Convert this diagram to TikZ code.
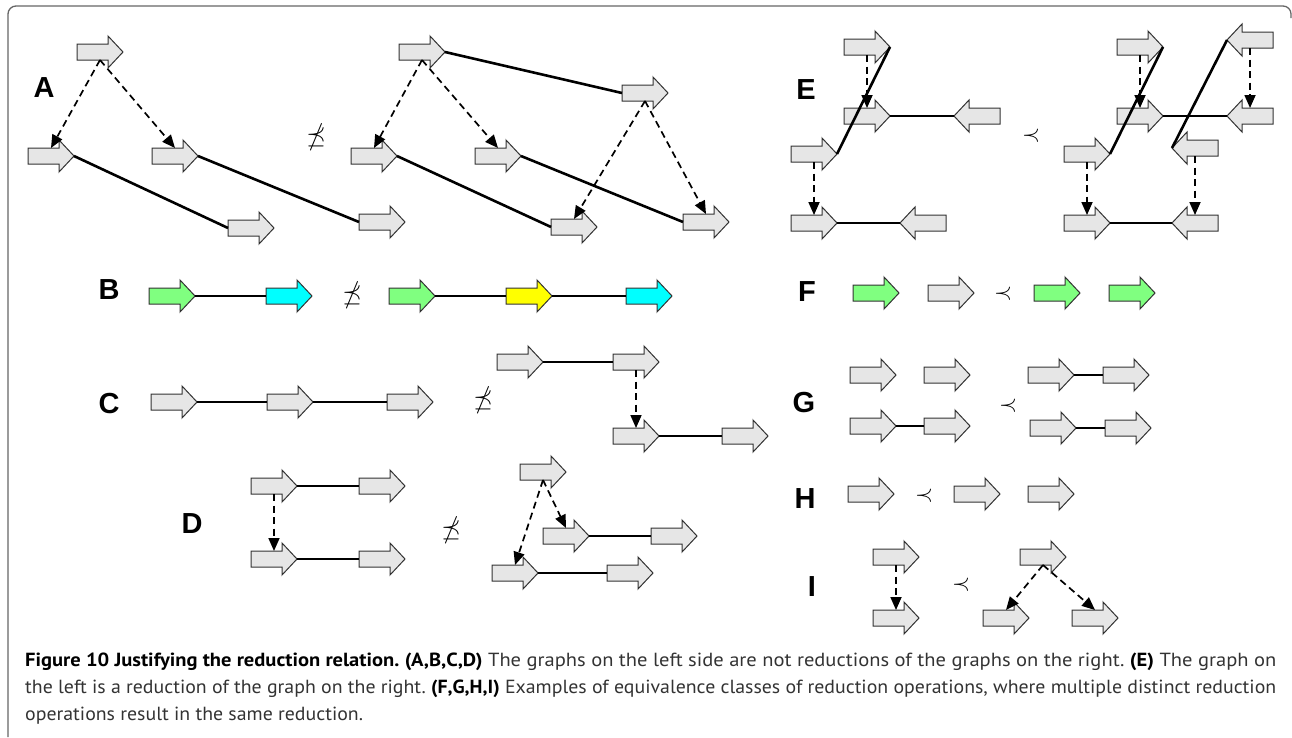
\documentclass[tikz,border=0pt]{standalone}
\usepackage{fontspec}
\usepackage{amssymb}
\usetikzlibrary{arrows.meta}
\newfontfamily\labfont{Liberation Sans}
\newfontfamily\capfont{PT Sans}
\definecolor{genegray}{HTML}{E6E6E6}
\definecolor{genegreen}{HTML}{80FF80}
\definecolor{genecyan}{HTML}{00FFFF}
\definecolor{geneyellow}{HTML}{FFFF00}
\definecolor{framegray}{HTML}{666666}
\newsavebox\capB
\tikzset{
  genebox/.style={rectangle, minimum width=46pt, minimum height=16pt, inner sep=0pt, outer sep=0pt},
  geneshape/.style={draw=black!80, line width=1pt, line join=miter},
  link/.style={line width=2.6pt, black},
  dep/.style={line width=1.7pt, black, dash pattern=on 7pt off 4.5pt, -{Triangle[length=13pt,width=11pt]}},
  lab/.style={font={\labfont\bfseries\fontsize{29}{29}\selectfont}, inner sep=0pt},
  rel/.style={inner sep=0pt},
  capline/.style={anchor=base west, inner sep=0pt, text=black!80, font={\capfont\fontsize{19}{23}\selectfont\frenchspacing}},
}
\newcommand\gR[4][genegray]{%
  \node[genebox] (#2) at (#3,#4) {};
  \draw[geneshape,fill=#1] (#3-23,#4-8) -- (#3+8,#4-8) -- (#3+8,#4-16) -- (#3+23,#4) -- (#3+8,#4+16) -- (#3+8,#4+8) -- (#3-23,#4+8) -- cycle;}
\newcommand\gL[4][genegray]{%
  \node[genebox] (#2) at (#3,#4) {};
  \draw[geneshape,fill=#1] (#3+23,#4-8) -- (#3-8,#4-8) -- (#3-8,#4-16) -- (#3-23,#4) -- (#3-8,#4+16) -- (#3-8,#4+8) -- (#3+23,#4+8) -- cycle;}
\newcommand\bt[1]{\textcolor{black}{\bfseries #1}}
\newcommand\nprecsym{\scalebox{2.5}{$\npreceq$}}
\newcommand\precsym{\scalebox{2.3}{$\prec$}}
\newcommand\captwo{the left is a reduction of the graph on the right. \bt{(F,G,H,I)} Examples of equivalence classes of reduction operations, where multiple distinct reduction}
\begin{document}
\sbox\capB{\capfont\fontsize{19}{23}\selectfont\frenchspacing\captwo}%
\pgfmathsetmacro\capsx{1251/(\wd\capB/1pt)}%
\begin{tikzpicture}[x=1pt,y=-1pt]
\useasboundingbox (0,0) rectangle (1292,737);
% frame
\draw[framegray, line width=1.3pt, rounded corners=8pt] (8,737) -- (8,6) -- (1291,6) -- (1291,18);

% ---------- Panel A ----------
\node[lab] (labA) at (44,88) {A};
\gR{a1}{100}{52}
\gR{a2}{51}{156}
\gR{a3}{175}{156}
\gR{a4}{251}{228}
\gR{a5}{382}{222}
\draw[link] (a2.east) -- (a4.west);
\draw[link] (a3.east) -- (a5.west);
\draw[dep] (a1.south) -- (a2.north);
\draw[dep] (a1.south) -- (a3.north);
\node[rel] (relA) at (316,137) {\nprecsym};
\gR{r1}{422}{52}
\gR{r2}{645}{93}
\gR{r3}{374}{156}
\gR{r4}{498}{156}
\gR{r5}{574}{227}
\gR{r6}{706}{222}
\draw[link] (r1.east) -- (r2.west);
\draw[link] (r3.east) -- (r5.west);
\draw[link] (r4.east) -- (r6.west);
\draw[dep] (r1.south) -- (r3.north);
\draw[dep] (r1.south) -- (r4.north);
\draw[dep] (r2.south) -- (r5.north);
\draw[dep] (r2.south) -- (r6.north);

% ---------- Panel B ----------
\node[lab] (labB) at (109,290) {B};
\gR[genegreen]{b1}{172}{296}
\gR[genecyan]{b2}{289}{296}
\draw[link] (b1.east) -- (b2.west);
\node[rel] (relB) at (352,295) {\nprecsym};
\gR[genegreen]{b3}{412}{296}
\gR[geneyellow]{b4}{529}{296}
\gR[genecyan]{b5}{649}{296}
\draw[link] (b3.east) -- (b4.west);
\draw[link] (b4.east) -- (b5.west);

% ---------- Panel C ----------
\node[lab] (labC) at (109,404) {C};
\gR{c1}{174}{402}
\gR{c2}{290}{402}
\gR{c3}{410}{402}
\draw[link] (c1.east) -- (c2.west);
\draw[link] (c2.east) -- (c3.west);
\node[rel] (relC) at (483,400) {\nprecsym};
\gR{c4}{520}{362}
\gR{c5}{636}{362}
\gR{c6}{636}{436}
\gR{c7}{745}{436}
\draw[link] (c4.east) -- (c5.west);
\draw[link] (c6.east) -- (c7.west);
\draw[dep] (c5.south) -- (c6.north);

% ---------- Panel D ----------
\node[lab] (labD) at (192,524) {D};
\gR{d1}{274}{486}
\gR{d2}{382}{486}
\gR{d3}{274}{559}
\gR{d4}{382}{559}
\draw[link] (d1.east) -- (d2.west);
\draw[link] (d3.east) -- (d4.west);
\draw[dep] (d1.south) -- (d3.north);
\node[rel] (relD) at (451,530) {\nprecsym};
\gR{d5}{543}{472}
\gR{d6}{566}{536}
\gR{d7}{674}{536}
\gR{d8}{515}{573}
\gR{d9}{630}{573}
\draw[link] (d6.east) -- (d7.west);
\draw[link] (d8.east) -- (d9.west);
\draw[dep] (d5.south) -- (d6.north);
\draw[dep] (d5.south) -- (d8.north);

% ---------- Panel E ----------
\node[lab] (labE) at (806,90) {E};
\gR{e1}{867}{47}
\gR{e2}{867}{116}
\gL{e3}{977}{116}
\gR{e4}{814}{154}
\gR{e5}{814}{223}
\gL{e6}{923}{223}
\draw[link] (e2.east) -- (e3.west);
\draw[link] (e4.east) -- (e1.east);
\draw[link] (e5.east) -- (e6.west);
\draw[dep] (e1.south) -- (e2.north);
\draw[dep] (e4.south) -- (e5.north);
\node[rel] (relE) at (1031,136) {\precsym};
\gR{f1}{1140}{47}
\gR{f2}{1140}{116}
\gL{f3}{1250}{116}
\gL{f4}{1250}{40}
\gR{f5}{1087}{154}
\gL{f6}{1195}{148}
\gR{f7}{1087}{223}
\gL{f8}{1195}{223}
\draw[link] (f2.east) -- (f3.west);
\draw[link] (f5.east) -- (f1.east);
\draw[link] (f6.west) -- (f4.west);
\draw[link] (f7.east) -- (f8.west);
\draw[dep] (f1.south) -- (f2.north);
\draw[dep] (f4.south) -- (f3.north);
\draw[dep] (f5.south) -- (f7.north);
\draw[dep] (f6.south) -- (f8.north);

% ---------- Panel F ----------
\node[lab] (labF) at (807,292) {F};
\gR[genegreen]{g1}{876}{293}
\gR{g2}{951}{293}
\node[rel] (relF) at (1003,294) {\precsym};
\gR[genegreen]{g3}{1057}{293}
\gR[genegreen]{g4}{1132}{293}

% ---------- Panel G ----------
\node[lab] (labG) at (804,403) {G};
\gR{h1}{873}{375}
\gR{h2}{947}{375}
\gR{h3}{873}{426}
\gR{h4}{947}{426}
\draw[link] (h3.east) -- (h4.west);
\node[rel] (relG) at (1008,406) {\precsym};
\gR{h5}{1051}{375}
\gR{h6}{1126}{375}
\gR{h7}{1053}{428}
\gR{h8}{1128}{428}
\draw[link] (h5.east) -- (h6.west);
\draw[link] (h7.east) -- (h8.west);

% ---------- Panel H ----------
\node[lab] (labH) at (805,499) {H};
\gR{k1}{871}{494}
\node[rel] (relH) at (924,496) {\precsym};
\gR{k2}{977}{494}
\gR{k3}{1051}{494}

% ---------- Panel I ----------
\node[lab] (labI) at (812,587) {I};
\gR{m1}{896}{557}
\gR{m2}{896}{618}
\draw[dep] (m1.south) -- (m2.north);
\node[rel] (relI) at (961,585) {\precsym};
\gR{m3}{1043}{557}
\gR{m4}{1006}{618}
\gR{m5}{1095}{618}
\draw[dep] (m3.south) -- (m4.north);
\draw[dep] (m3.south) -- (m5.north);

% ---------- Caption ----------
\node[capline] (cap1) at (25,666) {\resizebox{1251pt}{\height}{\bt{Figure 10 Justifying the reduction relation.} \bt{(A,B,C,D)} The graphs on the left side are not reductions of the graphs on the right. \bt{(E)} The graph on}};
\node[capline] (cap2) at (25,693) {\resizebox{1251pt}{\height}{\captwo}};
\node[capline] (cap3) at (25,720) {\scalebox{\capsx}[1]{operations result in the same reduction.}};
\end{tikzpicture}
\end{document}
